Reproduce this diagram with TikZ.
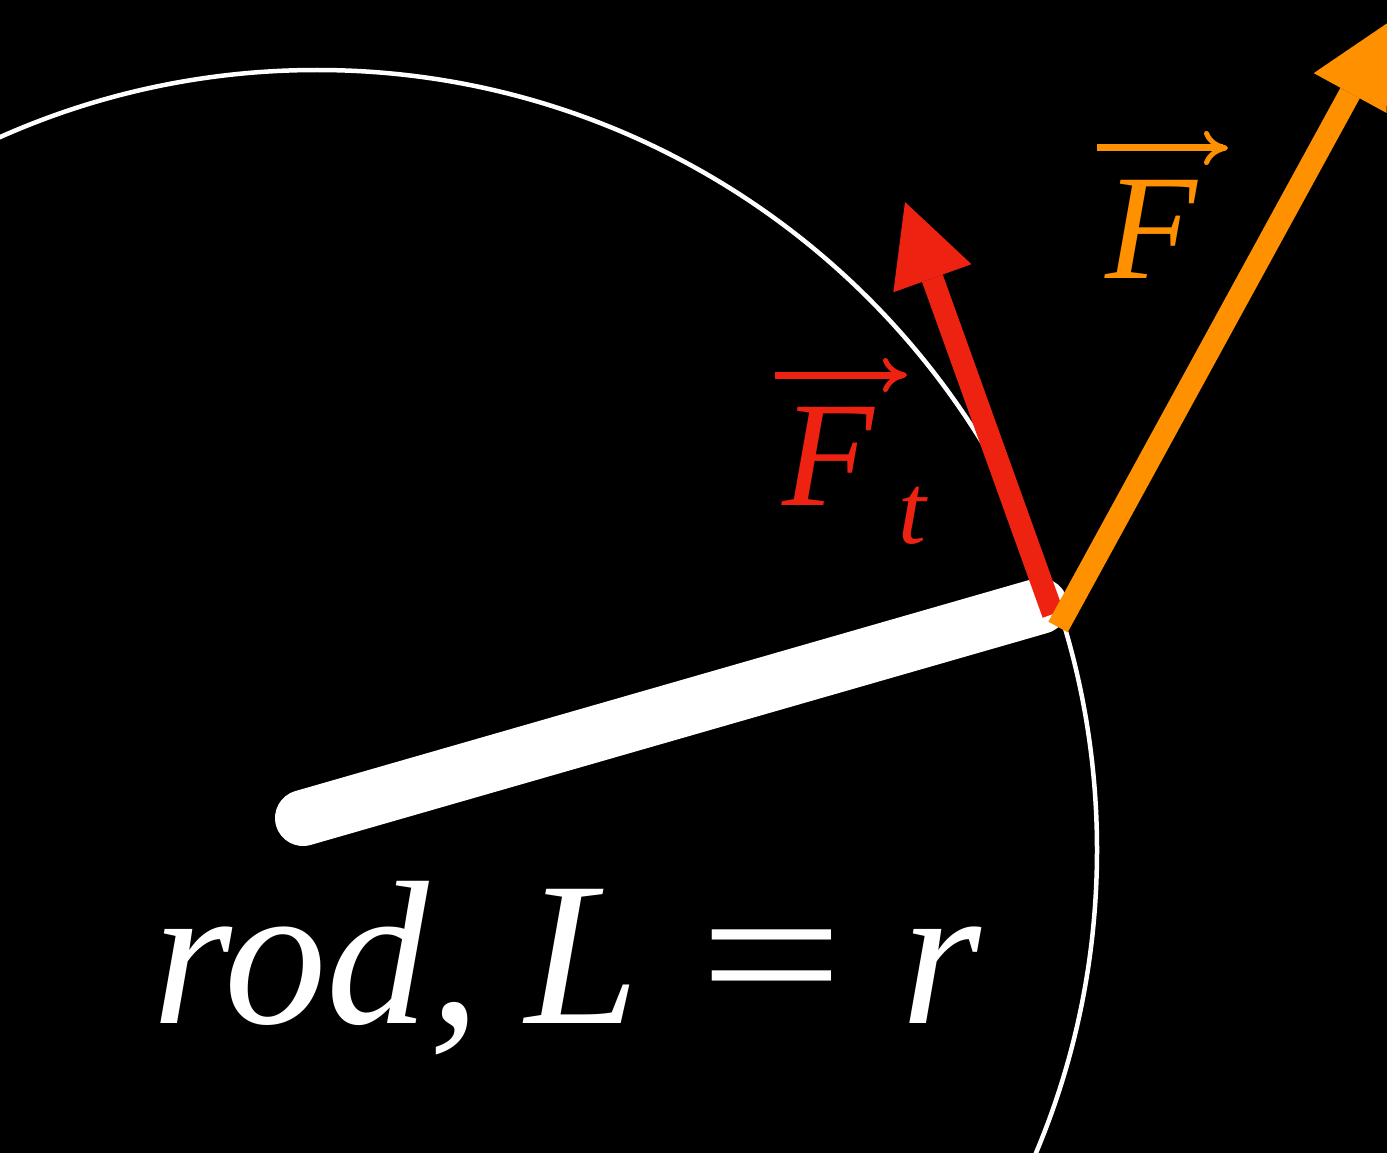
\documentclass[tikz,border=0pt]{standalone}
\usepackage{fontspec}
\usepackage{graphicx}
\setmainfont{Liberation Serif}
\usetikzlibrary{arrows.meta}
\definecolor{fred}{RGB}{238,34,17}
\definecolor{forange}{RGB}{255,145,0}
\begin{document}
\begin{tikzpicture}[x=1pt,y=-1pt,
  force/.style={line width=22pt, -{Triangle[length=81pt,width=83pt,line width=0pt]}},
  vecbar/.style={line width=7pt, -{Computer Modern Rightarrow[length=24pt,width=34pt,line width=5pt]}},
  bigfont/.style={font=\fontsize{205}{205}\selectfont\itshape},
  midfont/.style={font=\fontsize{150}{150}\selectfont\itshape},
  ]
\fill[black] (0,0) rectangle (1387,1153);
\useasboundingbox (0,0) rectangle (1387,1153);
\clip (0,0) rectangle (1387,1153);
% circle path
\coordinate (O) at (317,850);
\draw[white, line width=4.5pt] (O) circle[radius=780pt];
% rod
\coordinate (rodA) at (303,818);
\coordinate (rodB) at (1040,606);
\draw[white, line width=56pt, line cap=round] (rodA) -- (rodB);
% forces
\coordinate (ttail) at (1053,614);
\coordinate (ttip) at (905,202);
\coordinate (otail) at (1058,627);
\coordinate (otip) at (1389,22);
\draw[force, fred] (ttail) -- (ttip);
\draw[force, forange] (otail) -- (otip);
% labels
\node[bigfont, text=white, anchor=base west, inner sep=0pt] (lbl) at (152,1023)
  {rod,\hspace{45pt}L\hspace{60pt}{\upshape\scalebox{1.25}[1]{=}}\hspace{57pt}r};
\node[midfont, text=fred, anchor=base west, inner sep=0pt] (Ft) at (782,505)
  {F\hspace{25pt}\raisebox{-38pt}{\fontsize{100}{100}\selectfont t}};
\coordinate (ftA) at (775,375);
\coordinate (ftB) at (907,375);
\draw[vecbar, fred] (ftA) -- (ftB);
\node[midfont, text=forange, anchor=base west, inner sep=0pt] (Fo) at (1105,278) {F};
\coordinate (foA) at (1097,148);
\coordinate (foB) at (1228,148);
\draw[vecbar, forange] (foA) -- (foB);
\end{tikzpicture}
\end{document}
